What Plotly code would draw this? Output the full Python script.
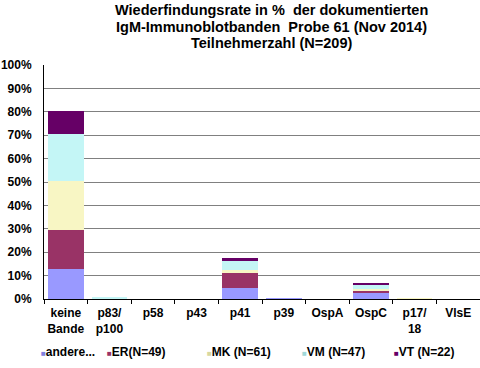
import plotly.graph_objects as go

categories = ["keine<br>Bande", "p83/<br>p100", "p58", "p43", "p41", "p39", "OspA", "OspC", "p17/<br>18", "VlsE"]
series_names = ["andere...", "ER(N=49)", "MK (N=61)", "VM (N=47)", "VT (N=22)"]
andere = [13.0, 0.0, 0, 0, 4.5, 0.4, 0, 2.7, 0.0, 0]
er     = [16.3, 0.1, 0, 0, 6.4, 0.0, 0, 0.9, 0.0, 0]
mk     = [21.0, 0.0, 0, 0, 1.5, 0.0, 0, 0.7, 0.4, 0]
vm     = [20.1, 0.5, 0, 0, 4.0, 0.0, 0, 2.1, 0.0, 0]
vt     = [9.9,  0.0, 0, 0, 1.2, 0.0, 0, 0.5, 0.0, 0]
colors = ["#9999FF", "#993366", "#F8F6C4", "#C4F6F6", "#660066"]
legend_colors = ["#8080E0", "#993366", "#D8D8A0", "#A0D8D8", "#660066"]
yticks = [0, 10, 20, 30, 40, 50, 60, 70, 80, 90, 100]
title_lines = ["Wiederfindungsrate in %  der dokumentierten",
               "IgM-Immunoblotbanden  Probe 61 (Nov 2014)",
               "Teilnehmerzahl (N=209)"]

fig = go.Figure()
for name, vals, col in zip(series_names, [andere, er, mk, vm, vt], colors):
    fig.add_trace(go.Bar(x=categories, y=vals, name=name, showlegend=False,
                         marker=dict(color=col, line=dict(width=0))))

for line, off in zip(title_lines, [55, 38, 22]):
    fig.add_annotation(text=line, xref="paper", yref="paper", x=0.522, xanchor="center",
                       y=1 + off / 234, yanchor="middle", showarrow=False,
                       font=dict(size=14.5, weight="bold"))

# legend drawn as text entries
legend_px = [39, 105, 205, 300, 392]
for name, col, px in zip(series_names, legend_colors, legend_px):
    fig.add_annotation(text=f'<span style="color:{col};font-size:8px">■</span>{name}',
                       xref="paper", yref="paper", x=(px - 44) / 436, xanchor="left",
                       y=(299 - 352) / 234, yanchor="middle", showarrow=False,
                       font=dict(size=12, weight="bold"))

fig.update_layout(
    barmode="stack",
    bargap=0.18,
    width=480, height=368,
    margin=dict(l=44, r=0, t=65, b=69, autoexpand=False),
    paper_bgcolor="white", plot_bgcolor="white",
    font=dict(family="Arial, Liberation Sans, sans-serif", size=12, color="black", weight="bold"),
    showlegend=False,
)
fig.update_xaxes(showline=True, linecolor="black", linewidth=1, ticks="outside",
                 tickson="boundaries", ticklen=4, tickcolor="black", showgrid=False,
                 automargin=False, ticklabelstandoff=3, tickangle=0)
fig.update_yaxes(range=[0, 100], tickmode="array", tickvals=yticks,
                 ticktext=[f"{v}%" for v in yticks], showline=True,
                 linecolor="black", linewidth=1, showgrid=True, gridcolor="#808080",
                 gridwidth=1, ticks="", zeroline=False, automargin=False,
                 ticklabelstandoff=9)

fig.write_html("out.html", config={"displayModeBar": False},
               post_script="document.body.style.margin='0';document.body.style.padding='0';")
